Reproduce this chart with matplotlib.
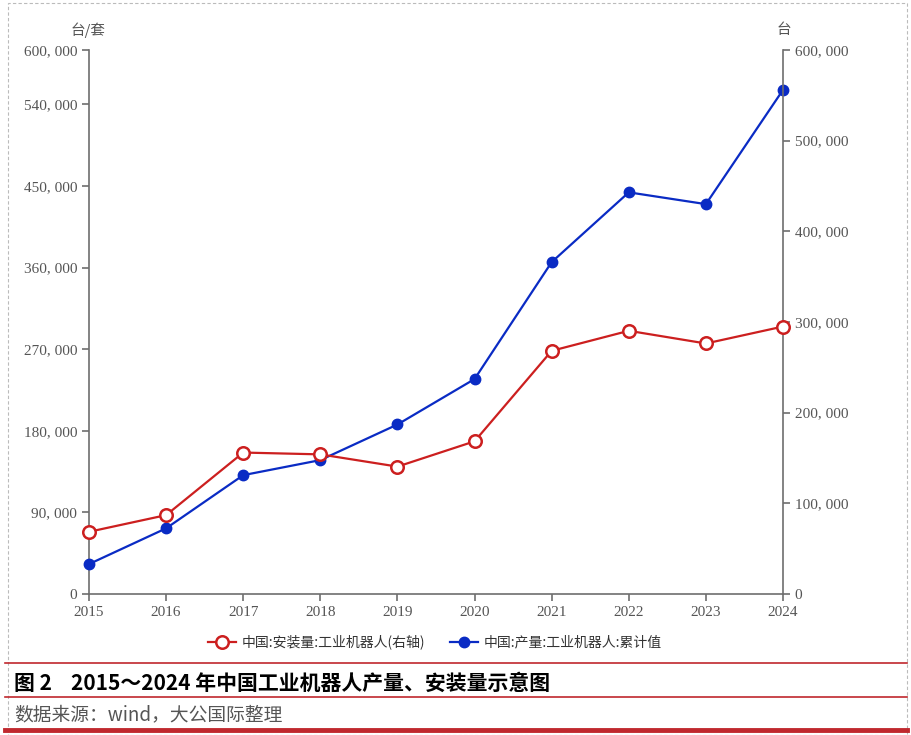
import matplotlib
matplotlib.use("Agg")
import matplotlib.pyplot as plt
from matplotlib.lines import Line2D
from matplotlib.patches import Rectangle

plt.rcParams['font.family'] = ['Noto Sans CJK SC', 'DejaVu Sans']

years = [2015, 2016, 2017, 2018, 2019, 2020, 2021, 2022, 2023, 2024]
# 产量 (left axis)
production = [32996, 72426, 131079, 147682, 186950, 237068, 366044, 443000, 430000, 556000]
# 安装量 (right axis)
installs = [68600, 87000, 156000, 154000, 140500, 168400, 268200, 290300, 276300, 295000]

left_ticks = [0, 90000, 180000, 270000, 360000, 450000, 540000, 600000]
right_ticks = [0, 100000, 200000, 300000, 400000, 500000, 600000]

red = '#cc1f1f'
blue = '#0a2bc4'
gray = '#555555'
axis_gray = '#6e6e6e'
serif = ['Liberation Serif', 'DejaVu Serif']

fig = plt.figure(figsize=(9.12, 7.35), dpi=100)
ax = fig.add_axes([89/912, 1-594/735, (783-89)/912, (594-50)/735])
ax2 = ax.twinx()

ax.plot(years, production, color=blue, lw=1.6, marker='o', ms=7.5,
        markerfacecolor=blue, markeredgecolor=blue, zorder=3, clip_on=False)
ax2.plot(years, installs, color=red, lw=1.6, marker='o', ms=9,
         markerfacecolor='white', markeredgecolor=red, markeredgewidth=1.8,
         zorder=3, clip_on=False)

for a in (ax, ax2):
    a.set_xlim(2015, 2024)
    a.set_ylim(0, 600000)
    for s in a.spines.values():
        s.set_visible(False)
    a.tick_params(colors=axis_gray, labelcolor=gray, width=1.2, length=5, labelsize=11)

ax.spines['left'].set_visible(True)
ax.spines['bottom'].set_visible(True)
ax2.spines['right'].set_visible(True)
for s in (ax.spines['left'], ax.spines['bottom'], ax2.spines['right']):
    s.set_color(axis_gray)
    s.set_linewidth(1.2)

ax.set_yticks(left_ticks)
ax.set_yticklabels(['0' if v == 0 else f'{v:,}'.replace(',', ', ') for v in left_ticks],
                   family=serif)
ax2.set_yticks(right_ticks)
ax2.set_yticklabels(['0' if v == 0 else f'{v:,}'.replace(',', ', ') for v in right_ticks],
                    family=serif)
ax.set_xticks(years)
ax.set_xticklabels([str(y) for y in years], family=serif)
ax.tick_params(axis='x', pad=4)

fig.text(88/912, 1-30/735, '台/套', ha='center', va='center', fontsize=10.5, color=gray)
fig.text(784/912, 1-30/735, '台', ha='center', va='center', fontsize=10.5, color=gray)

handles = [
    Line2D([], [], color=red, lw=1.6, marker='o', ms=9, markerfacecolor='white',
           markeredgecolor=red, markeredgewidth=1.8),
    Line2D([], [], color=blue, lw=1.6, marker='o', ms=7.5, markerfacecolor=blue,
           markeredgecolor=blue),
]
labels = ['中国:安装量:工业机器人(右轴)', '中国:产量:工业机器人:累计值']
fig.legend(handles, labels, loc='center', bbox_to_anchor=(435/912, 1-642/735), ncol=2,
           frameon=False, fontsize=10, handlelength=2.0, columnspacing=1.8,
           handletextpad=0.4, labelcolor='#333333')

# caption block
fig.add_artist(Line2D([0.005, 0.995], [1-663/735, 1-663/735], color='#c0282e', lw=1.2))
fig.add_artist(Line2D([0.005, 0.995], [1-697/735, 1-697/735], color='#c0282e', lw=1.2))
fig.add_artist(Line2D([0.005, 0.995], [1-730/735, 1-730/735], color='#c0282e', lw=3.5))
fig.text(14/912, 1-683/735, '图 2    2015～2024 年中国工业机器人产量、安装量示意图',
         ha='left', va='center', fontsize=15, fontweight='bold', color='black')
fig.text(14/912, 1-715/735, '数据来源：wind，大公国际整理',
         ha='left', va='center', fontsize=13.5, color='#555555')

# dashed outer border
fig.add_artist(Rectangle((8/912, 0.0), 899/912, 1-3/735, transform=fig.transFigure,
                         fill=False, edgecolor='#bbbbbb', lw=0.8, ls=(0, (3, 2))))

fig.savefig('out.png', dpi=100)
